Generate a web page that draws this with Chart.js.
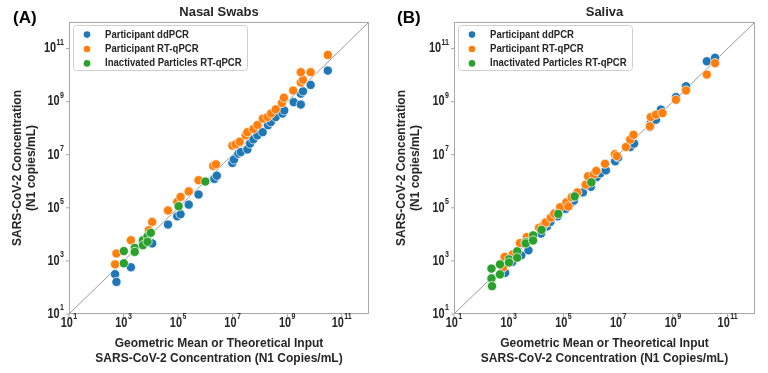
<!DOCTYPE html>
<html lang="en">
<head>
<meta charset="UTF-8">
<title>SARS-CoV-2 concentration</title>
<script src="https://cdn.jsdelivr.net/npm/chart.js"></script>
<style>
body { margin: 0; background: #fff; }
.panel { position: absolute; top: 0; width: 384px; height: 373px; }
</style>
</head>
<body>
<div class="panel" style="left:0"><canvas id="chartA" width="384" height="373"></canvas></div>
<div class="panel" style="left:384px"><canvas id="chartB" width="384" height="373"></canvas></div>
<script>
// all values are log10 of copies/mL
const tickExps = [1, 3, 5, 7, 9, 11];
const seriesNames = ['Participant ddPCR', 'Participant RT-qPCR', 'Inactivated Particles RT-qPCR'];
const seriesColors = ['#1f77b4', '#ff7f0e', '#2ca02c'];

// (A) nasal swabs
const nasalDdX = [2.69, 2.74, 3.27, 4.05, 4.63, 4.97, 5.09, 5.39, 5.75, 6.33, 6.42, 6.99, 7.05, 7.21, 7.30, 7.54, 7.64, 7.76, 7.91, 8.10, 8.30, 8.40, 8.58, 8.83, 8.89, 9.24, 9.50, 9.50, 9.58, 9.86, 10.49];
const nasalDdY = [2.50, 2.21, 2.76, 3.66, 4.37, 4.68, 4.76, 5.12, 5.50, 6.09, 6.21, 6.69, 6.82, 7.04, 7.10, 7.20, 7.42, 7.58, 7.73, 7.85, 8.11, 8.23, 8.42, 8.55, 8.67, 8.98, 8.89, 9.30, 9.39, 9.63, 10.17];
const nasalQpX = [2.69, 2.74, 3.27, 3.93, 4.05, 4.63, 4.97, 5.09, 5.39, 5.75, 6.29, 6.39, 6.99, 7.11, 7.26, 7.48, 7.54, 7.76, 7.91, 8.11, 8.28, 8.41, 8.58, 8.81, 8.88, 9.22, 9.50, 9.58, 9.50, 9.86, 10.49];
const nasalQpY = [2.87, 3.28, 3.78, 4.16, 4.47, 4.90, 5.22, 5.41, 5.62, 6.04, 6.58, 6.64, 7.34, 7.39, 7.49, 7.73, 7.85, 7.97, 8.12, 8.36, 8.42, 8.55, 8.71, 8.95, 9.15, 9.42, 9.72, 9.82, 10.11, 10.11, 10.76];
const nasalInX = [3.01, 3.01, 3.41, 3.41, 3.71, 3.71, 3.88, 3.88, 4.00, 5.02, 6.00];
const nasalInY = [3.37, 2.91, 3.49, 3.34, 3.78, 3.59, 3.93, 3.72, 4.06, 5.06, 5.99];

// (B) saliva
const salivaDdX = [2.87, 3.13, 3.46, 3.72, 4.18, 4.40, 4.52, 4.79, 5.08, 5.25, 5.38, 5.71, 6.00, 6.22, 6.35, 6.55, 6.89, 7.00, 7.44, 7.58, 8.16, 8.19, 8.38, 8.56, 9.11, 9.48, 10.24, 10.54];
const salivaDdY = [2.55, 2.96, 3.21, 3.40, 4.03, 4.30, 4.47, 4.68, 4.96, 5.15, 5.27, 5.58, 5.79, 6.16, 6.30, 6.41, 6.75, 6.90, 7.29, 7.42, 8.04, 8.19, 8.32, 8.70, 9.17, 9.58, 10.52, 10.65];
const salivaQpX = [2.79, 2.85, 3.15, 3.41, 3.66, 4.11, 4.27, 4.35, 4.54, 4.66, 4.88, 5.11, 5.18, 5.30, 5.51, 5.81, 5.90, 6.10, 6.20, 6.52, 6.88, 6.95, 7.28, 7.44, 7.56, 8.16, 8.19, 8.38, 8.62, 9.11, 9.48, 10.24, 10.54];
const salivaQpY = [2.75, 3.15, 3.25, 3.67, 3.90, 4.25, 4.34, 4.45, 4.63, 4.78, 5.02, 5.21, 5.05, 5.40, 5.58, 5.87, 6.19, 6.25, 6.39, 6.66, 7.02, 6.95, 7.29, 7.57, 7.75, 8.07, 8.42, 8.51, 8.57, 9.07, 9.42, 10.02, 10.45];
const salivaInX = [2.37, 2.37, 2.39, 2.68, 2.68, 3.01, 3.01, 3.31, 3.31, 3.62, 3.62, 3.89, 3.89, 4.20, 4.81, 5.41, 6.02];
const salivaInY = [2.71, 2.34, 2.05, 2.87, 2.49, 3.06, 2.94, 3.36, 3.12, 3.71, 3.66, 3.96, 3.77, 4.17, 4.77, 5.43, 5.96];

function toPoints(xs, ys) {
    return xs.map((v, i) => ({ x: 10 ** v, y: 10 ** ys[i] }));
}

// "10" with a raised exponent, squeezed a bit like the original
function drawPow(ctx, exp, x0, cy) {
    const sx = 0.78;
    ctx.font = 'bold 14px "Liberation Sans", Arial, sans-serif';
    const wb = ctx.measureText('10').width * sx;
    ctx.save();
    ctx.translate(x0, cy);
    ctx.scale(sx, 1);
    ctx.textBaseline = 'middle';
    ctx.textAlign = 'left';
    ctx.fillText('10', 0, 0);
    ctx.restore();
    ctx.font = 'bold 9px "Liberation Sans", Arial, sans-serif';
    ctx.save();
    ctx.translate(x0 + wb + 0.5, cy - 6);
    ctx.scale(sx, 1);
    ctx.textBaseline = 'middle';
    ctx.textAlign = 'left';
    ctx.fillText(String(exp), 0, 0);
    ctx.restore();
}

function powWidth(ctx, exp) {
    const sx = 0.78;
    ctx.font = 'bold 14px "Liberation Sans", Arial, sans-serif';
    const wb = ctx.measureText('10').width;
    ctx.font = 'bold 9px "Liberation Sans", Arial, sans-serif';
    const we = ctx.measureText(String(exp)).width;
    return (wb + we) * sx + 0.5;
}

const overlay = {
    id: 'overlay',
    afterDraw(chart, args, opts) {
        const { ctx, chartArea: a } = chart;
        const xs = chart.scales.x, ys = chart.scales.y;
        ctx.save();
        // frame
        ctx.strokeStyle = '#a8a8a8';
        ctx.lineWidth = 1;
        ctx.strokeRect(a.left + 0.5, a.top + 0.5, a.width - 1, a.height - 1);

        // ticks and labels
        ctx.fillStyle = '#262626';
        xs.ticks.forEach(t => {
            const px = xs.getPixelForValue(t.value);
            const e = Math.round(Math.log10(t.value));
            ctx.beginPath();
            ctx.moveTo(px, a.bottom);
            ctx.lineTo(px, a.bottom + 3);
            ctx.stroke();
            const w = powWidth(ctx, e);
            drawPow(ctx, e, px - w / 2, a.bottom + 9);
        });
        ys.ticks.forEach(t => {
            const py = ys.getPixelForValue(t.value);
            const e = Math.round(Math.log10(t.value));
            ctx.beginPath();
            ctx.moveTo(a.left - 3, py);
            ctx.lineTo(a.left, py);
            ctx.stroke();
            const w = powWidth(ctx, e);
            drawPow(ctx, e, a.left - 5 - w, py);
        });

        // panel title and letter
        ctx.fillStyle = '#262626';
        ctx.font = 'bold 13px "Liberation Sans", Arial, sans-serif';
        ctx.textAlign = 'center';
        ctx.textBaseline = 'middle';
        ctx.fillText(opts.title, (a.left + a.right) / 2, 12);
        ctx.fillStyle = '#000';
        ctx.font = 'bold 17px "Liberation Sans", Arial, sans-serif';
        ctx.textAlign = 'left';
        ctx.fillText(opts.letter, opts.letterX, 18);

        // legend box in the upper left corner
        const lx = a.left + 4, ly = a.top + 3, lw = 174, lh = 45;
        ctx.fillStyle = 'rgba(255,255,255,0.85)';
        ctx.strokeStyle = '#d0d0d0';
        ctx.beginPath();
        ctx.roundRect(lx + 0.5, ly + 0.5, lw, lh, 3);
        ctx.fill();
        ctx.stroke();
        chart.data.datasets.forEach((ds, i) => {
            if (ds.type === 'line') return;
            const yy = a.top + 12.6 + i * 14.4;
            ctx.fillStyle = ds.backgroundColor;
            ctx.beginPath();
            ctx.arc(a.left + 18, yy, 3.3, 0, Math.PI * 2);
            ctx.fill();
            ctx.fillStyle = '#262626';
            ctx.font = 'bold 11px "Liberation Sans", Arial, sans-serif';
            ctx.save();
            ctx.translate(a.left + 36, yy);
            ctx.scale(0.87, 1);
            ctx.textAlign = 'left';
            ctx.textBaseline = 'middle';
            ctx.fillText(ds.label, 0, 0);
            ctx.restore();
        });
        ctx.restore();
    }
};

function makePanel(id, title, letter, letterX, leftW, rightPad, dd, qp, inact) {
    const sets = [dd, qp, inact].map((pts, i) => ({
        label: seriesNames[i],
        data: pts,
        backgroundColor: seriesColors[i],
        borderColor: '#ffffff',
        borderWidth: 0.7,
        pointRadius: 4.6,
        pointHoverRadius: 4.6,
        order: 3 - i
    }));
    sets.push({
        type: 'line',
        label: 'identity',
        data: [{ x: 10, y: 10 }, { x: 1e12, y: 1e12 }],
        borderColor: '#9a9a9a',
        borderWidth: 1,
        pointRadius: 0,
        order: 5
    });
    const axisTitleFont = { family: '"Liberation Sans", Arial, sans-serif', size: 12, weight: 'bold' };
    return new Chart(document.getElementById(id).getContext('2d'), {
        type: 'scatter',
        data: { datasets: sets },
        options: {
            responsive: false,
            animation: false,
            layout: { padding: { top: 22, right: rightPad, left: 0, bottom: 0 } },
            plugins: {
                legend: { display: false },
                tooltip: { enabled: false },
                overlay: { title: title, letter: letter, letterX: letterX }
            },
            scales: {
                x: {
                    type: 'logarithmic',
                    min: 10, max: 1e12,
                    grid: { display: false },
                    border: { display: false },
                    ticks: { display: false },
                    afterBuildTicks: s => { s.ticks = tickExps.map(e => ({ value: 10 ** e })); },
                    afterFit: s => { s.height = 59; },
                    title: {
                        display: true,
                        text: ['Geometric Mean or Theoretical Input', 'SARS-CoV-2 Concentration (N1 Copies/mL)'],
                        color: '#262626',
                        font: axisTitleFont,
                        padding: { top: 0, bottom: 7.4 }
                    }
                },
                y: {
                    type: 'logarithmic',
                    min: 10, max: 1e12,
                    grid: { display: false },
                    border: { display: false },
                    ticks: { display: false },
                    afterBuildTicks: s => { s.ticks = tickExps.map(e => ({ value: 10 ** e })); },
                    afterFit: s => { s.width = leftW; },
                    title: {
                        display: true,
                        text: ['SARS-CoV-2 Concentration', '(N1 copies/mL)'],
                        color: '#262626',
                        font: axisTitleFont,
                        padding: { top: 10, bottom: 0 }
                    }
                }
            }
        },
        plugins: [overlay]
    });
}

makePanel('chartA', 'Nasal Swabs', '(A)', 13, 69, 15,
    toPoints(nasalDdX, nasalDdY), toPoints(nasalQpX, nasalQpY), toPoints(nasalInX, nasalInY));
makePanel('chartB', 'Saliva', '(B)', 13, 70, 13,
    toPoints(salivaDdX, salivaDdY), toPoints(salivaQpX, salivaQpY), toPoints(salivaInX, salivaInY));
</script>
</body>
</html>
